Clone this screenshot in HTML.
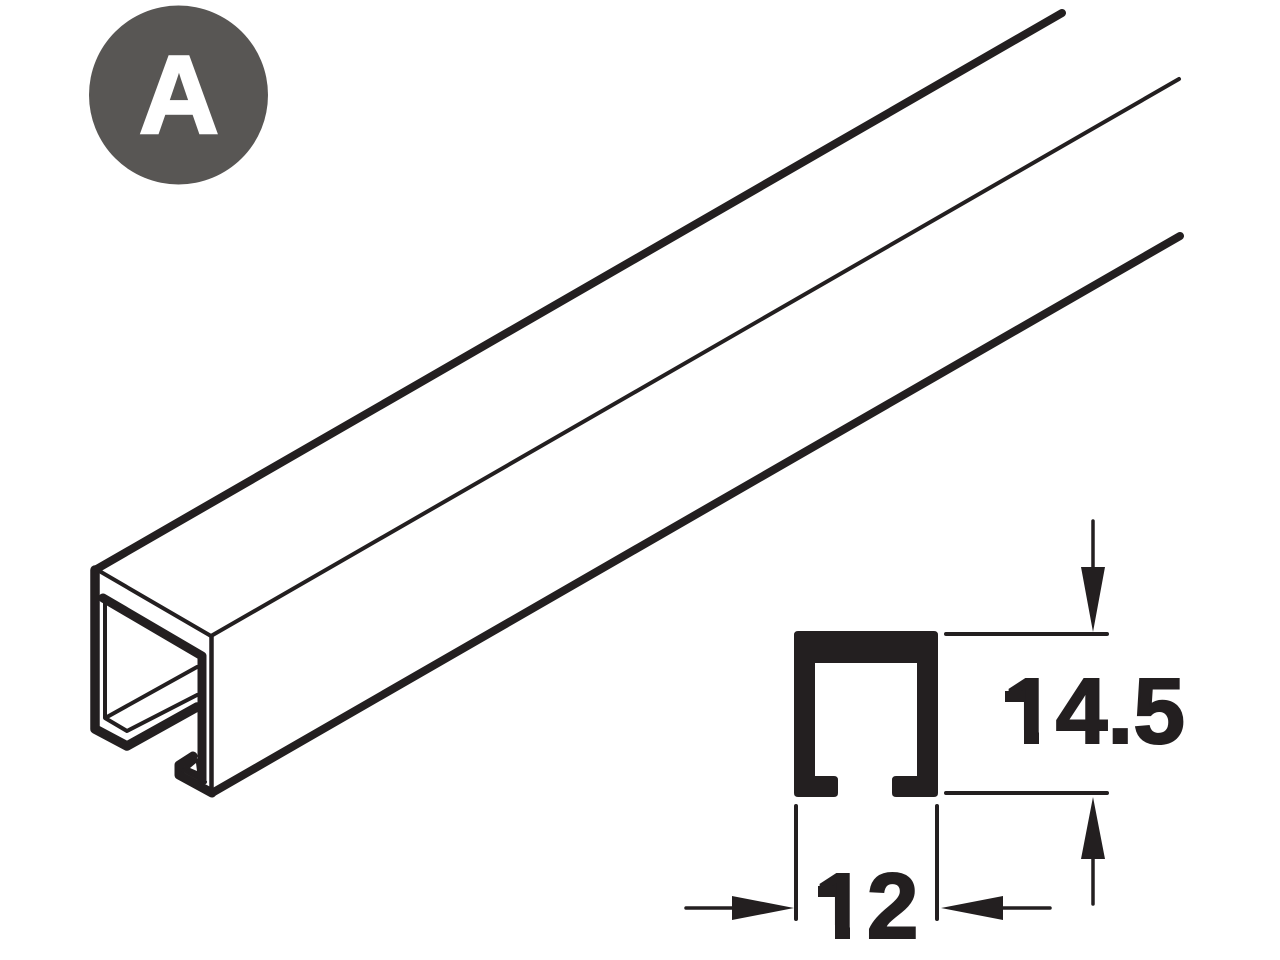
<!DOCTYPE html>
<html><head><meta charset="utf-8"><style>html,body{margin:0;padding:0;background:#fff}svg{display:block}text{font-family:"Liberation Sans",Arial,sans-serif;font-weight:bold}</style></head>
<body>
<svg width="1280" height="960" viewBox="0 0 1280 960" xmlns="http://www.w3.org/2000/svg">
<rect width="1280" height="960" fill="#fff"/>
<circle cx="178.500" cy="95" r="89.500" fill="#585654"/>
<text x="179" y="133" font-size="111" text-anchor="middle" fill="#fff" stroke="#fff" stroke-width="2.500">A</text>
<text x="1003.300" y="743" font-size="93" fill="#231f20" stroke="#231f20" stroke-width="2">1</text>
<rect x="1000" y="730" width="24" height="21" fill="#fff"/>
<rect x="1039" y="730" width="16" height="21" fill="#fff"/>
<rect x="1005" y="691" width="20" height="11" fill="#231f20"/>
<text x="1055.700" y="743" font-size="93" fill="#231f20" stroke="#231f20" stroke-width="2">4.5</text>
<text x="814.300" y="938" font-size="93" fill="#231f20" stroke="#231f20" stroke-width="2">1</text>
<rect x="811" y="925" width="24" height="21" fill="#fff"/>
<rect x="850" y="925" width="15" height="21" fill="#fff"/>
<rect x="818" y="886" width="18" height="11" fill="#231f20"/>
<text x="866.700" y="938" font-size="93" fill="#231f20" stroke="#231f20" stroke-width="2">2</text>
<g fill="none" stroke="#231f20" stroke-linecap="round" stroke-linejoin="round">
<path d="M1062 13 L95 570" stroke-width="8"/>
<path d="M95 570 V729 L127 746 L197 707" stroke-width="9.500"/>
<path d="M1180 236 L212 793" stroke-width="8"/>
<path d="M212 793 L179 775 V765 L193 756" stroke-width="9"/>
<path d="M1179 79 L211 636 L101 572" stroke-width="4"/>
<path d="M211.500 636 V790" stroke-width="4.500"/>
<path d="M103 598 L202 656 V780" stroke-width="9"/>
<path d="M105 600 V718 L127 731 L197 695" stroke-width="4"/>
<path d="M107 717 L197 667" stroke-width="4"/>
<path d="M183 770 L205 782" stroke-width="4"/>
<path d="M946 634 H1107 M946 793 H1107" stroke-width="4"/>
<path d="M1093 521 V620 M1093 850 V904" stroke-width="3.500"/>
<path d="M796 806 V919 M937 806 V919" stroke-width="4"/>
<path d="M686 908 H750 M985 908 H1050" stroke-width="3.500"/>
</g>
<path fill="#231f20" d="M182 768 L197 758 L204 770 L204 782 Z"/>
<path fill="#fff" d="M196 763 L197 771 L190 768 Z"/>
<path fill="#231f20" fill-rule="evenodd" d="M798 631 H934 Q938 631 938 635 V793 Q938 797 934 797 H896 Q892 797 892 793 V780 Q892 776 896 776 H917 V663 H815 V776 H834 Q838 776 838 780 V793 Q838 797 834 797 H798 Q794 797 794 793 V635 Q794 631 798 631 Z"/>
<path fill="#231f20" d="M1081 567 H1105 L1093 632 Z M1081 859 H1105 L1093 797 Z M732 896 L794 908 L732 920 Z M1003 896 L941 908 L1003 920 Z"/>
</svg>
</body></html>
